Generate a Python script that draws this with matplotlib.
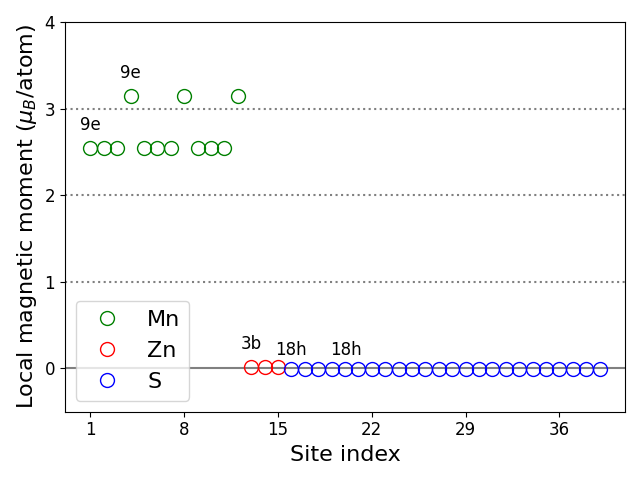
import numpy as np
import matplotlib
matplotlib.use('Agg')
import matplotlib.pyplot as plt

# site moments
mn_sites = list(range(1, 13))
mn_moment = [2.54, 2.54, 2.54, 3.14, 2.54, 2.54, 2.54, 3.14, 2.54, 2.54, 2.54, 3.14]
zn_sites = [13, 14, 15]
zn_moment = [0.02, 0.02, 0.02]
s_sites = list(range(16, 40))
s_moment = [-0.01] * 24

labels = ['9e', '9e', '3b', '18h', '18h']
label_x = [0.2, 3.2, 12.2, 14.8, 18.9]
label_y = [2.75, 3.35, 0.22, 0.15, 0.15]

fig, ax = plt.subplots(figsize=(6.4, 4.8))

ax.plot(mn_sites, mn_moment, 'o', mfc='none', color='green', markersize=10, label='Mn')
ax.plot(zn_sites, zn_moment, 'o', mfc='none', color='red', markersize=10, label='Zn')
ax.plot(s_sites, s_moment, 'o', mfc='none', color='blue', markersize=10, label='S')

ax.axhline(0, color='gray', zorder=0)
for y in [1, 2, 3]:
    ax.axhline(y, color='gray', linestyle=':', zorder=0)

for t, x, y in zip(labels, label_x, label_y):
    ax.text(x, y, t, fontsize=12)

ax.set_ylim(-0.5, 4)
ax.set_yticks([0, 1, 2, 3, 4])
ax.set_xticks([1, 8, 15, 22, 29, 36])
ax.tick_params(labelsize=12)
ax.set_xlabel('Site index', fontsize=16)
ax.set_ylabel(r'Local magnetic moment ($\mu_B$/atom)', fontsize=16)
ax.legend(loc='lower left', fontsize=16)

fig.tight_layout()
plt.savefig('out.png')
plt.close()
